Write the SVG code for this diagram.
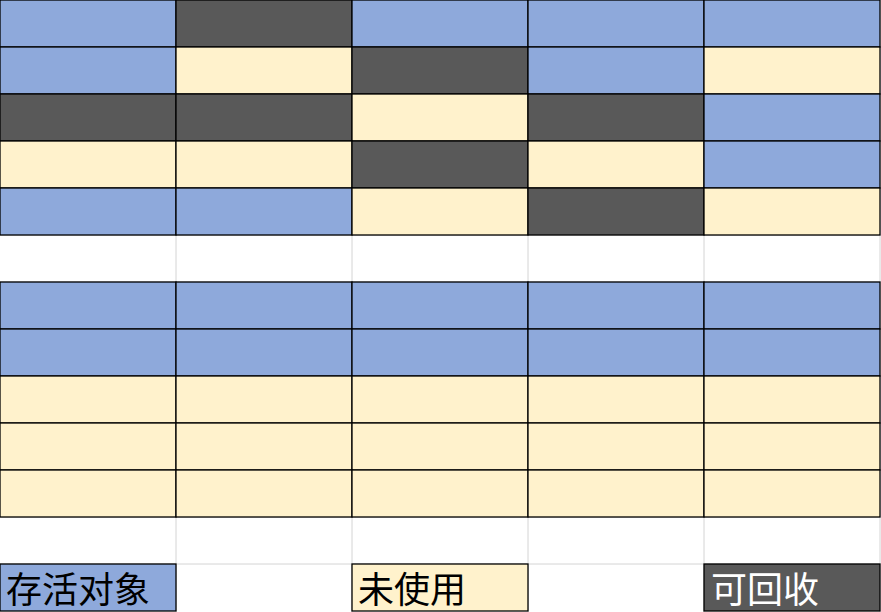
<svg xmlns="http://www.w3.org/2000/svg" width="881" height="612" viewBox="0 0 881 612">
<style>
.b{fill:#8EA9DB;stroke:#000;stroke-width:1.3}
.c{fill:#FFF2CC;stroke:#000;stroke-width:1.3}
.d{fill:#595959;stroke:#000;stroke-width:1.3}
.g{stroke:#D4D4D4;stroke-width:1}
.t{font-family:"Noto Sans CJK SC","Noto Sans CJK JP",sans-serif;font-size:36px}
</style>
<rect width="881" height="612" fill="#fff"/>
<g id="grid">
<line class="g" x1="176" y1="0" x2="176" y2="612"/>
<line class="g" x1="352" y1="0" x2="352" y2="612"/>
<line class="g" x1="528" y1="0" x2="528" y2="612"/>
<line class="g" x1="704" y1="0" x2="704" y2="612"/>
<line class="g" x1="880" y1="0" x2="880" y2="612"/>
<line class="g" x1="0" y1="235" x2="881" y2="235"/>
<line class="g" x1="0" y1="282" x2="881" y2="282"/>
<line class="g" x1="0" y1="517" x2="881" y2="517"/>
<line class="g" x1="0" y1="564" x2="881" y2="564"/>
</g>
<g id="heap1">
<rect class="b" x="0" y="0" width="176" height="47"/>
<rect class="d" x="176" y="0" width="176" height="47"/>
<rect class="b" x="352" y="0" width="176" height="47"/>
<rect class="b" x="528" y="0" width="176" height="47"/>
<rect class="b" x="704" y="0" width="176" height="47"/>
<rect class="b" x="0" y="47" width="176" height="47"/>
<rect class="c" x="176" y="47" width="176" height="47"/>
<rect class="d" x="352" y="47" width="176" height="47"/>
<rect class="b" x="528" y="47" width="176" height="47"/>
<rect class="c" x="704" y="47" width="176" height="47"/>
<rect class="d" x="0" y="94" width="176" height="47"/>
<rect class="d" x="176" y="94" width="176" height="47"/>
<rect class="c" x="352" y="94" width="176" height="47"/>
<rect class="d" x="528" y="94" width="176" height="47"/>
<rect class="b" x="704" y="94" width="176" height="47"/>
<rect class="c" x="0" y="141" width="176" height="47"/>
<rect class="c" x="176" y="141" width="176" height="47"/>
<rect class="d" x="352" y="141" width="176" height="47"/>
<rect class="c" x="528" y="141" width="176" height="47"/>
<rect class="b" x="704" y="141" width="176" height="47"/>
<rect class="b" x="0" y="188" width="176" height="47"/>
<rect class="b" x="176" y="188" width="176" height="47"/>
<rect class="c" x="352" y="188" width="176" height="47"/>
<rect class="d" x="528" y="188" width="176" height="47"/>
<rect class="c" x="704" y="188" width="176" height="47"/>
</g>
<g id="heap2">
<rect class="b" x="0" y="282" width="176" height="47"/>
<rect class="b" x="176" y="282" width="176" height="47"/>
<rect class="b" x="352" y="282" width="176" height="47"/>
<rect class="b" x="528" y="282" width="176" height="47"/>
<rect class="b" x="704" y="282" width="176" height="47"/>
<rect class="b" x="0" y="329" width="176" height="47"/>
<rect class="b" x="176" y="329" width="176" height="47"/>
<rect class="b" x="352" y="329" width="176" height="47"/>
<rect class="b" x="528" y="329" width="176" height="47"/>
<rect class="b" x="704" y="329" width="176" height="47"/>
<rect class="c" x="0" y="376" width="176" height="47"/>
<rect class="c" x="176" y="376" width="176" height="47"/>
<rect class="c" x="352" y="376" width="176" height="47"/>
<rect class="c" x="528" y="376" width="176" height="47"/>
<rect class="c" x="704" y="376" width="176" height="47"/>
<rect class="c" x="0" y="423" width="176" height="47"/>
<rect class="c" x="176" y="423" width="176" height="47"/>
<rect class="c" x="352" y="423" width="176" height="47"/>
<rect class="c" x="528" y="423" width="176" height="47"/>
<rect class="c" x="704" y="423" width="176" height="47"/>
<rect class="c" x="0" y="470" width="176" height="47"/>
<rect class="c" x="176" y="470" width="176" height="47"/>
<rect class="c" x="352" y="470" width="176" height="47"/>
<rect class="c" x="528" y="470" width="176" height="47"/>
<rect class="c" x="704" y="470" width="176" height="47"/>
</g>
<g id="legend-live">
<rect class="b" x="0" y="564" width="176" height="47"/>
<text class="t" x="6" y="603" fill="#000">存活对象</text>
</g>
<g id="legend-unused">
<rect class="c" x="352" y="564" width="176" height="47"/>
<text class="t" x="358" y="603" fill="#000">未使用</text>
</g>
<g id="legend-garbage">
<rect class="d" x="704" y="564" width="176" height="47"/>
<text class="t" x="711" y="603" fill="#fff">可回收</text>
</g>
<g id="connectors"/>
</svg>
